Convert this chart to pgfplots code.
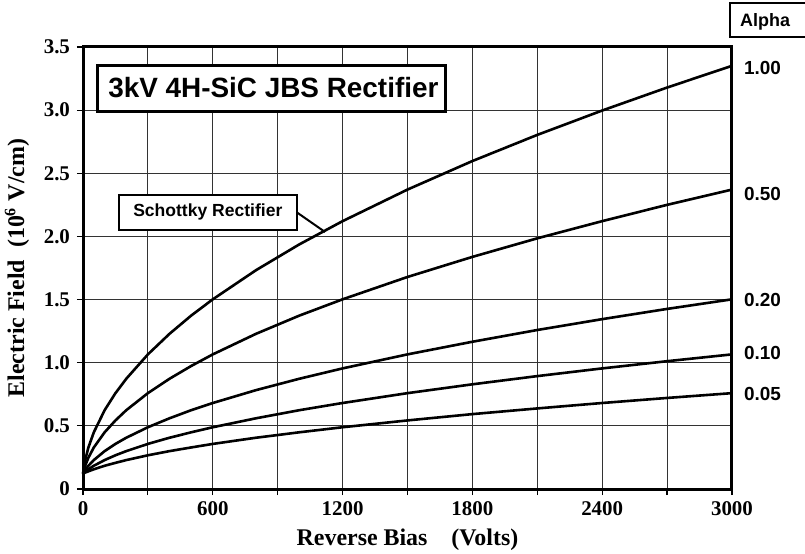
\documentclass[border=0pt]{standalone}
\usepackage{pgfplots}
\pgfplotsset{compat=1.18}
\usepackage{fontspec}
\setmainfont{Liberation Serif}
\newfontfamily\arial{Liberation Sans}
\begin{document}
\begin{tikzpicture}
\path[use as bounding box] (-41.5bp,-32.5bp) rectangle (361bp,244.5bp);
\begin{axis}[
  at={(0,0)}, anchor=south west,
  scale only axis, width=324.5bp, height=221bp,
  xmin=0, xmax=3000, ymin=0, ymax=3.5,
  xtick={0,600,1200,1800,2400,3000},
  minor xtick={300,900,1500,2100,2700},
  ytick={0,0.5,1,1.5,2,2.5,3,3.5},
  yticklabels={0,0.5,1.0,1.5,2.0,2.5,3.0,3.5},
  grid=both,
  major grid style={black!80,line width=0.5bp},
  minor grid style={black!80,line width=0.5bp},
  tick pos=left, tick align=outside,
  major tick length=3bp, minor tick length=3bp,
  every tick/.style={black,line width=0.6bp},
  axis line style={line width=1.5bp},
  /pgf/number format/assume math mode=true,
  /pgf/number format/1000 sep={},
  ticklabel style={font=\bfseries\fontsize{10.5}{12}\selectfont},
  xlabel={Reverse Bias\quad(Volts)},
  ylabel={Electric Field\ \ (10\textsuperscript{6} V/cm)},
  label style={font=\bfseries\fontsize{12}{14}\selectfont},
  xlabel style={at={(axis description cs:0.5,0)},anchor=center,yshift=-25.5bp},
  ylabel style={at={(axis description cs:0,0.5)},anchor=center,yshift=33bp},
  clip=false,
  every axis plot post/.append style={black,line width=1.3bp,mark=none},
]
% alpha = 1.00
\addplot coordinates {(0,0.122)(10,0.229)(25,0.329)(50,0.449)(100,0.624)(150,0.759)(200,0.873)(300,1.066)(400,1.229)(500,1.373)(600,1.502)(800,1.733)(1000,1.937)(1200,2.121)(1500,2.371)(1800,2.597)(2100,2.804)(2400,2.997)(2700,3.179)(3000,3.351)};
% alpha = 0.50
\addplot coordinates {(0,0.122)(10,0.184)(25,0.248)(50,0.329)(100,0.449)(150,0.543)(200,0.624)(300,0.759)(400,0.873)(500,0.974)(600,1.066)(800,1.229)(1000,1.373)(1200,1.502)(1500,1.679)(1800,1.838)(2100,1.985)(2400,2.121)(2700,2.250)(3000,2.371)};
% alpha = 0.20
\addplot coordinates {(0,0.122)(10,0.150)(25,0.184)(50,0.229)(100,0.300)(150,0.357)(200,0.406)(300,0.489)(400,0.560)(500,0.624)(600,0.681)(800,0.783)(1000,0.873)(1200,0.955)(1500,1.066)(1800,1.166)(2100,1.259)(2400,1.345)(2700,1.426)(3000,1.502)};
% alpha = 0.10
\addplot coordinates {(0,0.122)(10,0.137)(25,0.156)(50,0.184)(100,0.229)(150,0.267)(200,0.300)(300,0.357)(400,0.406)(500,0.449)(600,0.489)(800,0.560)(1000,0.624)(1200,0.681)(1500,0.759)(1800,0.829)(2100,0.894)(2400,0.955)(2700,1.012)(3000,1.066)};
% alpha = 0.05
\addplot coordinates {(0,0.122)(10,0.130)(25,0.140)(50,0.156)(100,0.184)(150,0.207)(200,0.229)(300,0.267)(400,0.300)(500,0.329)(600,0.357)(800,0.406)(1000,0.449)(1200,0.489)(1500,0.543)(1800,0.593)(2100,0.638)(2400,0.681)(2700,0.721)(3000,0.759)};
% title box
\draw[line width=1.5bp,fill=white] (axis cs:65,2.993) rectangle (axis cs:1674,3.357);
\node[font=\arial\bfseries\fontsize{14}{16}\selectfont,anchor=center] at (axis cs:880,3.175) {3kV 4H-SiC JBS Rectifier};
% Schottky box
\draw[line width=1bp,fill=white] (axis cs:166,2.051) rectangle (axis cs:989,2.328);
\node[font=\arial\bfseries\fontsize{8.8}{10}\selectfont,anchor=center] at (axis cs:577,2.19) {Schottky Rectifier};
\draw[line width=1bp] (axis cs:989,2.19) -- (axis cs:1119,2.035);
% alpha box and labels
\draw[line width=0.8bp] (axis cs:2991,3.579) rectangle (axis cs:3420,3.848);
\node[font=\arial\bfseries\fontsize{9}{10}\selectfont,anchor=center] at (axis cs:3153,3.70) {Alpha};
\begin{scope}[every node/.style={font=\arial\bfseries\fontsize{9.5}{11}\selectfont,anchor=west,xshift=2.5bp}]
\node at (axis cs:3000,3.33) {1.00};
\node at (axis cs:3000,2.34) {0.50};
\node at (axis cs:3000,1.50) {0.20};
\node at (axis cs:3000,1.08) {0.10};
\node at (axis cs:3000,0.75) {0.05};
\end{scope}
\end{axis}
\end{tikzpicture}
\end{document}
